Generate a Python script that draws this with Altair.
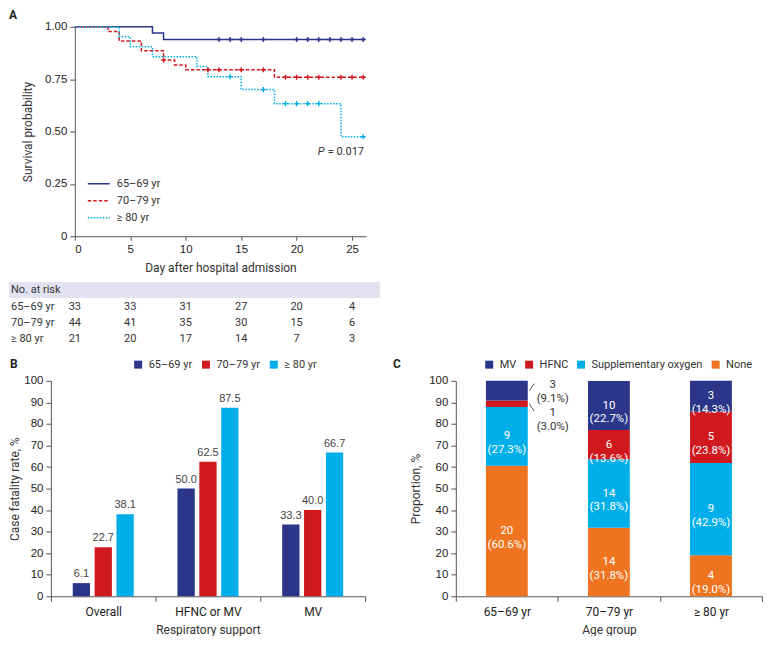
import altair as alt
import pandas as pd

# ---------------- data ----------------
km_groups = ["65–69 yr", "70–79 yr", "≥ 80 yr"]

km_65_days = [0, 7, 8, 26.2]
km_65_surv = [1.0, 0.970, 0.939, 0.939]
km_70_days = [0, 3, 4, 6, 8, 9, 10, 18, 26.2]
km_70_surv = [1.0, 0.977, 0.932, 0.886, 0.841, 0.818, 0.795, 0.759, 0.759]
km_80_days = [0, 4, 5, 7, 11, 12, 15, 18, 24, 26.2]
km_80_surv = [1.0, 0.952, 0.905, 0.857, 0.810, 0.762, 0.700, 0.633, 0.475, 0.475]

cens_65_days = [13, 14, 15, 17, 20, 21, 22, 23, 24, 25, 26]
cens_70_days = [8, 12, 13, 15, 17, 19, 20, 21, 22, 24, 25, 26]
cens_80_days = [14, 17, 19, 20, 21, 22, 26]

risk_days = [0, 5, 10, 15, 20, 25]
risk_65 = [33, 33, 31, 27, 20, 4]
risk_70 = [44, 41, 35, 30, 15, 6]
risk_80 = [21, 20, 17, 14, 7, 3]

b_categories = ["Overall", "HFNC or MV", "MV"]
b_65 = [6.1, 50.0, 33.3]
b_70 = [22.7, 62.5, 40.0]
b_80 = [38.1, 87.5, 66.7]

c_ages = ["65–69 yr", "70–79 yr", "≥ 80 yr"]
c_supports = ["MV", "HFNC", "Supplementary oxygen", "None"]
c_mv_n = [3, 10, 3]
c_hfnc_n = [1, 6, 5]
c_supp_n = [9, 14, 9]
c_none_n = [20, 14, 4]
c_mv_pct = [9.1, 22.7, 14.3]
c_hfnc_pct = [3.0, 13.6, 23.8]
c_supp_pct = [27.3, 31.8, 42.9]
c_none_pct = [60.6, 31.8, 19.0]

# ---------------- style ----------------
NAVY = "#2b3589"
RED = "#d0191f"
CYAN = "#00aeea"
ORANGE = "#ee7420"
BAND = "#e2e2f0"
TXT = "#333333"
FONT = "Roboto"
NUMFONT = "Liberation Sans"

# ---------------- tables ----------------
def surv_at(days, surv, t):
    v = surv[0]
    for d, s in zip(days, surv):
        if d <= t:
            v = s
    return v

km_rows, cens_rows = [], []
for g, days, surv, cens in [
    (km_groups[0], km_65_days, km_65_surv, cens_65_days),
    (km_groups[1], km_70_days, km_70_surv, cens_70_days),
    (km_groups[2], km_80_days, km_80_surv, cens_80_days),
]:
    for d, s in zip(days, surv):
        km_rows.append({"group": g, "day": d, "surv": s})
    for d in cens:
        cens_rows.append({"group": g, "day": d, "surv": surv_at(days, surv, d)})
km_df = pd.DataFrame(km_rows)
cens_df = pd.DataFrame(cens_rows)

# ---------------- Panel A ----------------
OFF = 24                      # plot area of A starts OFF px right of the shared column origin
W_A, H_A = 292, 210
x_day = alt.Scale(domain=[0, 26.26], range=[OFF, OFF + W_A], nice=False, zero=False)
y_surv = alt.Scale(domain=[0, 1], nice=False)
grp_color = alt.Scale(domain=km_groups, range=[NAVY, RED, CYAN])
grp_dash = alt.Scale(domain=km_groups, range=[[1, 0], [3.5, 2], [1.5, 1.5]])

axis_x_A = alt.Axis(values=risk_days, title="Day after hospital admission", format="d",
                    tickSize=4, labelPadding=3, titlePadding=8)
axis_y_A = alt.Axis(values=[0, 0.25, 0.5, 0.75, 1.0], offset=-OFF,
                    labelExpr="datum.value === 0 ? '0' : format(datum.value, '.2f')",
                    title="Survival probability", tickSize=5, labelPadding=3, titlePadding=10)
legA = alt.Legend(title=None, orient="none", legendX=OFF + 12, legendY=151, symbolType="stroke",
                  symbolSize=484, symbolStrokeWidth=1.5, clipHeight=13, rowPadding=4,
                  labelFontSize=11, labelFont=FONT, labelColor=TXT, labelOffset=6)

XA = alt.X("day:Q", scale=x_day, axis=axis_x_A)
YA = alt.Y("surv:Q", scale=y_surv, axis=axis_y_A)

km_lines = alt.Chart(km_df).mark_line(interpolate="step-after", strokeWidth=1.5).encode(
    x=XA, y=YA,
    color=alt.Color("group:N", scale=grp_color, sort=km_groups, legend=legA),
    strokeDash=alt.StrokeDash("group:N", scale=grp_dash, sort=km_groups, legend=legA),
)
km_cens = alt.Chart(cens_df).mark_point(shape="M-1,0H1M0,-1V1", size=26, strokeWidth=1.4,
                                        filled=False, opacity=1).encode(
    x=XA, y=YA,
    stroke=alt.Stroke("group:N", scale=alt.Scale(domain=km_groups, range=[NAVY, RED, CYAN]),
                      legend=None),
)

one = pd.DataFrame({"k": [0]})
LEFT = OFF - 66
tag_a = alt.Chart(pd.DataFrame({"t": ["A"]})).mark_text(
    align="left", baseline="top", fontWeight="bold", fontSize=12, font=FONT, color="#222"
).encode(x=alt.value(LEFT), y=alt.value(-17), text="t:N")

p_df = pd.DataFrame({"day": [21.9], "surv": [0.40], "p": ["P"], "v": ["= 0.017"]})
p_italic = alt.Chart(p_df).mark_text(align="left", baseline="middle", fontStyle="italic",
                                     fontSize=11, font=FONT, color=TXT).encode(x=XA, y=YA, text="p:N")
p_value = alt.Chart(p_df).mark_text(align="left", baseline="middle", dx=10,
                                    fontSize=11, font=FONT, color=TXT).encode(x=XA, y=YA, text="v:N")

band = alt.Chart(one).mark_rect(color=BAND).encode(
    x=alt.value(LEFT), x2=alt.value(OFF + 306), y=alt.value(256), y2=alt.value(272))
hdr = alt.Chart(pd.DataFrame({"t": ["No. at risk"]})).mark_text(
    align="left", baseline="middle", fontSize=11, font=FONT, color=TXT
).encode(x=alt.value(LEFT + 2), y=alt.value(264), text="t:N")

risk_layers = []
for g, vals, ypx in [(km_groups[0], risk_65, 281), (km_groups[1], risk_70, 297),
                     (km_groups[2], risk_80, 313)]:
    lab = alt.Chart(pd.DataFrame({"t": [g]})).mark_text(
        align="left", baseline="middle", fontSize=11, font=FONT, color=TXT
    ).encode(x=alt.value(LEFT + 2), y=alt.value(ypx), text="t:N")
    nums = alt.Chart(pd.DataFrame({"day": risk_days, "n": vals})).mark_text(
        align="center", baseline="middle", fontSize=11, font=FONT, color=TXT
    ).encode(x=XA, y=alt.value(ypx), text="n:Q")
    risk_layers += [lab, nums]

panel_a = alt.layer(km_lines, km_cens, p_italic, p_value, tag_a, band, hdr, *risk_layers).properties(
    width=OFF + W_A, height=H_A)

# ---------------- Panel B ----------------
W_B, H_B = 315, 216
b_rows = []
for i, cat in enumerate(b_categories):
    for g, arr in zip(km_groups, [b_65, b_70, b_80]):
        b_rows.append({"cat": cat, "age": g, "val": arr[i]})
b_df = pd.DataFrame(b_rows)

XB = alt.X("cat:N", sort=b_categories, scale=alt.Scale(paddingInner=0, paddingOuter=0),
           axis=alt.Axis(title="Respiratory support", tickBand="extent", labelAngle=0, tickSize=5,
                         labelPadding=5, titlePadding=7, labelFont=FONT, labelFontSize=12))
XOB = alt.XOffset("age:N", sort=km_groups,
                  scale=alt.Scale(domain=km_groups, paddingInner=0.21, paddingOuter=1.0))
YB = alt.Y("val:Q", scale=alt.Scale(domain=[0, 100], nice=False),
           axis=alt.Axis(values=list(range(0, 101, 10)), title="Case fatality rate, %",
                         tickSize=5, labelPadding=3, titlePadding=2))
legB = alt.Legend(title=None, orient="none", direction="horizontal", legendX=82, legendY=-22,
                  symbolType="square", symbolSize=64, symbolStrokeWidth=0, labelFontSize=11,
                  labelFont=FONT, labelColor=TXT, columnPadding=8, labelOffset=5)

b_bars = alt.Chart(b_df).mark_bar().encode(
    x=XB, xOffset=XOB, y=YB,
    color=alt.Color("age:N", sort=km_groups, scale=alt.Scale(domain=km_groups, range=[NAVY, RED, CYAN]),
                    legend=legB))
b_text = alt.Chart(b_df).mark_text(baseline="bottom", dy=-4, fontSize=11, font=NUMFONT,
                                   color="#444").encode(
    x=XB, xOffset=XOB, y=YB, text=alt.Text("val:Q", format=".1f"))
tag_b = alt.Chart(pd.DataFrame({"t": ["B"]})).mark_text(
    align="left", baseline="top", fontWeight="bold", fontSize=12, font=FONT, color="#222"
).encode(x=alt.value(-41), y=alt.value(-22), text="t:N")

panel_b = alt.layer(b_bars, b_text, tag_b).properties(width=W_B, height=H_B)

# ---------------- Panel C ----------------
W_C, H_C = 307, 216
c_rows = []
for j, age in enumerate(c_ages):
    base = 0.0
    for order, (sup, ns, ps) in enumerate([
        ("None", c_none_n, c_none_pct),
        ("Supplementary oxygen", c_supp_n, c_supp_pct),
        ("HFNC", c_hfnc_n, c_hfnc_pct),
        ("MV", c_mv_n, c_mv_pct),
    ]):
        c_rows.append({"age": age, "support": sup, "n": ns[j], "pct": ps[j], "ord": order,
                       "mid": base + ps[j] / 2,
                       "label": f"{ns[j]}\n({ps[j]:.1f}%)"})
        base += ps[j]
c_df = pd.DataFrame(c_rows)
outside = (c_df["age"] == c_ages[0]) & (c_df["support"].isin(["MV", "HFNC"]))
c_in = c_df[~outside]
c_out = c_df[outside].copy()
c_out["ly"] = c_out.apply(lambda r: r["mid"] + 2.5 if r["support"] == "MV" else r["mid"] - 4.3, axis=1)
c_out["ly_lead"] = c_out.apply(lambda r: r["mid"] + 3.3 if r["support"] == "MV" else r["mid"] - 3.5, axis=1)

c_scale_y = alt.Scale(domain=[0, 100], nice=False)
XC = alt.X("age:N", sort=c_ages, scale=alt.Scale(paddingInner=0, paddingOuter=0),
           axis=alt.Axis(title="Age group", tickBand="extent", labelAngle=0, tickSize=5,
                         labelPadding=5, titlePadding=7, labelFont=FONT, labelFontSize=12))
axis_y_C = alt.Axis(values=list(range(0, 101, 10)), title="Proportion, %",
                    tickSize=5, labelPadding=3, titlePadding=6)
legC = alt.Legend(title=None, orient="none", direction="horizontal", legendX=28, legendY=-22,
                  symbolType="square", symbolSize=64, symbolStrokeWidth=0, labelFontSize=11,
                  labelFont=FONT, labelColor=TXT, columnPadding=7, labelOffset=5)

c_bars = alt.Chart(c_df).mark_bar(width=alt.RelativeBandSize(0.41)).encode(
    x=XC,
    y=alt.Y("pct:Q", stack="zero", scale=c_scale_y, axis=axis_y_C),
    color=alt.Color("support:N", sort=c_supports,
                    scale=alt.Scale(domain=c_supports, range=[NAVY, RED, CYAN, ORANGE]), legend=legC),
    order=alt.Order("ord:Q"),
)
c_text_in = alt.Chart(c_in).mark_text(lineBreak="\n", lineHeight=14, baseline="middle",
                                      fontSize=11.5, font=FONT, color="white").encode(
    x=XC, y=alt.Y("mid:Q", scale=c_scale_y, axis=axis_y_C), text="label:N")
c_text_out = alt.Chart(c_out).mark_text(lineBreak="\n", lineHeight=14, baseline="middle", dx=46,
                                        fontSize=11.5, font=FONT, color=TXT).encode(
    x=XC, y=alt.Y("ly:Q", scale=c_scale_y, axis=axis_y_C), text="label:N")
bar_right = W_C / 6 + 0.205 * W_C / 3
c_lead = alt.Chart(c_out).mark_rule(color="#444", strokeWidth=0.9).encode(
    x=alt.value(bar_right + 1.5), x2=alt.value(bar_right + 6.5),
    y=alt.Y("mid:Q", scale=c_scale_y, axis=axis_y_C), y2="ly_lead:Q")
tag_c = alt.Chart(pd.DataFrame({"t": ["C"]})).mark_text(
    align="left", baseline="top", fontWeight="bold", fontSize=12, font=FONT, color="#222"
).encode(x=alt.value(-63), y=alt.value(-22), text="t:N")

panel_c = alt.layer(c_bars, c_text_in, c_text_out, c_lead, tag_c).properties(width=W_C, height=H_C)

# ---------------- compose ----------------
bottom = alt.hconcat(panel_b, panel_c, spacing=27).resolve_scale(
    color="independent").resolve_legend(color="independent")

chart = alt.vconcat(panel_a, bottom, spacing=14).resolve_scale(
    color="independent", strokeDash="independent", stroke="independent"
).resolve_legend(color="independent", strokeDash="independent").properties(
    padding={"left": 0, "top": 0, "right": 0, "bottom": 0}, background="#ffffff"
).configure_view(stroke=None).configure_axis(
    grid=False, domainColor="#555555", tickColor="#555555", labelColor="#222222",
    titleColor=TXT, labelFont=NUMFONT, titleFont=FONT, labelFontSize=11.5,
    titleFontSize=12, titleFontWeight="normal",
).configure_legend(labelFont=FONT, labelColor=TXT)

chart.save("out.html", embed_options={"renderer": "svg", "actions": False})
